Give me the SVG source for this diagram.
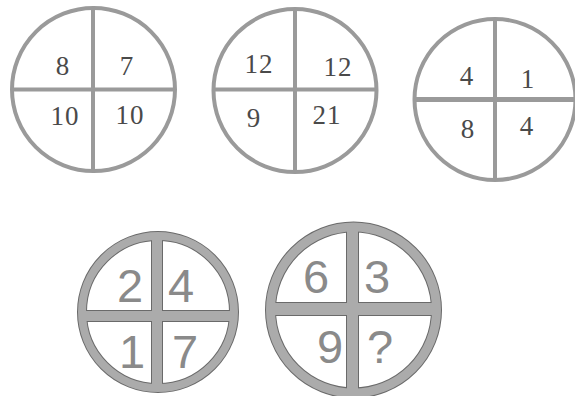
<svg xmlns="http://www.w3.org/2000/svg" width="575" height="396" viewBox="0 0 575 396">
<style>
.ring{fill:none;stroke:#9a9a9a;stroke-width:4}
.bar{stroke:#9a9a9a;stroke-width:4}
.serif{font-family:"Liberation Serif","Times New Roman",serif;font-size:27px;fill:#4a4a4a;text-anchor:middle;letter-spacing:1px}
.dark{fill:none;stroke:#6a6a6a;stroke-width:10}
.light{fill:none;stroke:#ababab;stroke-width:8}
.darkfill{fill:#6a6a6a}
.lightfill{fill:#ababab}
.sans{font-family:"Liberation Sans",Arial,sans-serif;font-size:47px;fill:#8a8a8a;text-anchor:middle}
</style>
<rect width="575" height="396" fill="#ffffff"/>
<g id="circle1">
<circle class="ring" cx="93.5" cy="89.5" r="81.5"/>
<line class="bar" x1="93" y1="8" x2="93" y2="171"/>
<line class="bar" x1="12" y1="89.5" x2="175" y2="89.5"/>
<text class="serif" x="63" y="75">8</text>
<text class="serif" x="127" y="75">7</text>
<text class="serif" x="65" y="125">10</text>
<text class="serif" x="130" y="124">10</text>
</g>
<g id="circle2">
<circle class="ring" cx="295" cy="90.5" r="81.5"/>
<line class="bar" x1="295" y1="9" x2="295" y2="172"/>
<line class="bar" x1="213.5" y1="89.5" x2="376.5" y2="89.5"/>
<text class="serif" x="259" y="73">12</text>
<text class="serif" x="338" y="76">12</text>
<text class="serif" x="254" y="127">9</text>
<text class="serif" x="327" y="124">21</text>
</g>
<g id="circle3">
<circle class="ring" cx="495" cy="99.5" r="80.5"/>
<line class="bar" x1="495" y1="19" x2="495" y2="180"/>
<line class="bar" x1="414.5" y1="99.5" x2="575" y2="99.5" style="stroke-width:5"/>
<text class="serif" x="467" y="85">4</text>
<text class="serif" x="528" y="88">1</text>
<text class="serif" x="468" y="138">8</text>
<text class="serif" x="527" y="135">4</text>
</g>
<g id="circle4">
<circle class="dark" cx="158" cy="312" r="76"/>
<rect class="darkfill" x="151" y="234" width="12" height="156"/>
<rect class="darkfill" x="80" y="310" width="156" height="12"/>
<circle class="light" cx="158" cy="312" r="76"/>
<rect class="lightfill" x="152" y="235" width="10" height="154"/>
<rect class="lightfill" x="81" y="311" width="154" height="10"/>
<text class="sans" x="130" y="302">2</text>
<text class="sans" x="181" y="302">4</text>
<text class="sans" x="132" y="368">1</text>
<text class="sans" x="185" y="368">7</text>
</g>
<g id="circle5">
<circle class="dark" cx="353.5" cy="310" r="83" style="stroke-width:11"/>
<rect class="darkfill" x="346" y="225" width="13" height="170"/>
<rect class="darkfill" x="267" y="302" width="173" height="14"/>
<circle class="light" cx="353.5" cy="310" r="83" style="stroke-width:9"/>
<rect class="lightfill" x="347" y="226" width="11" height="168"/>
<rect class="lightfill" x="268" y="303" width="171" height="12"/>
<text class="sans" x="316" y="293">6</text>
<text class="sans" x="377" y="293">3</text>
<text class="sans" x="330" y="363">9</text>
<text class="sans" x="380" y="363">?</text>
</g>
</svg>
